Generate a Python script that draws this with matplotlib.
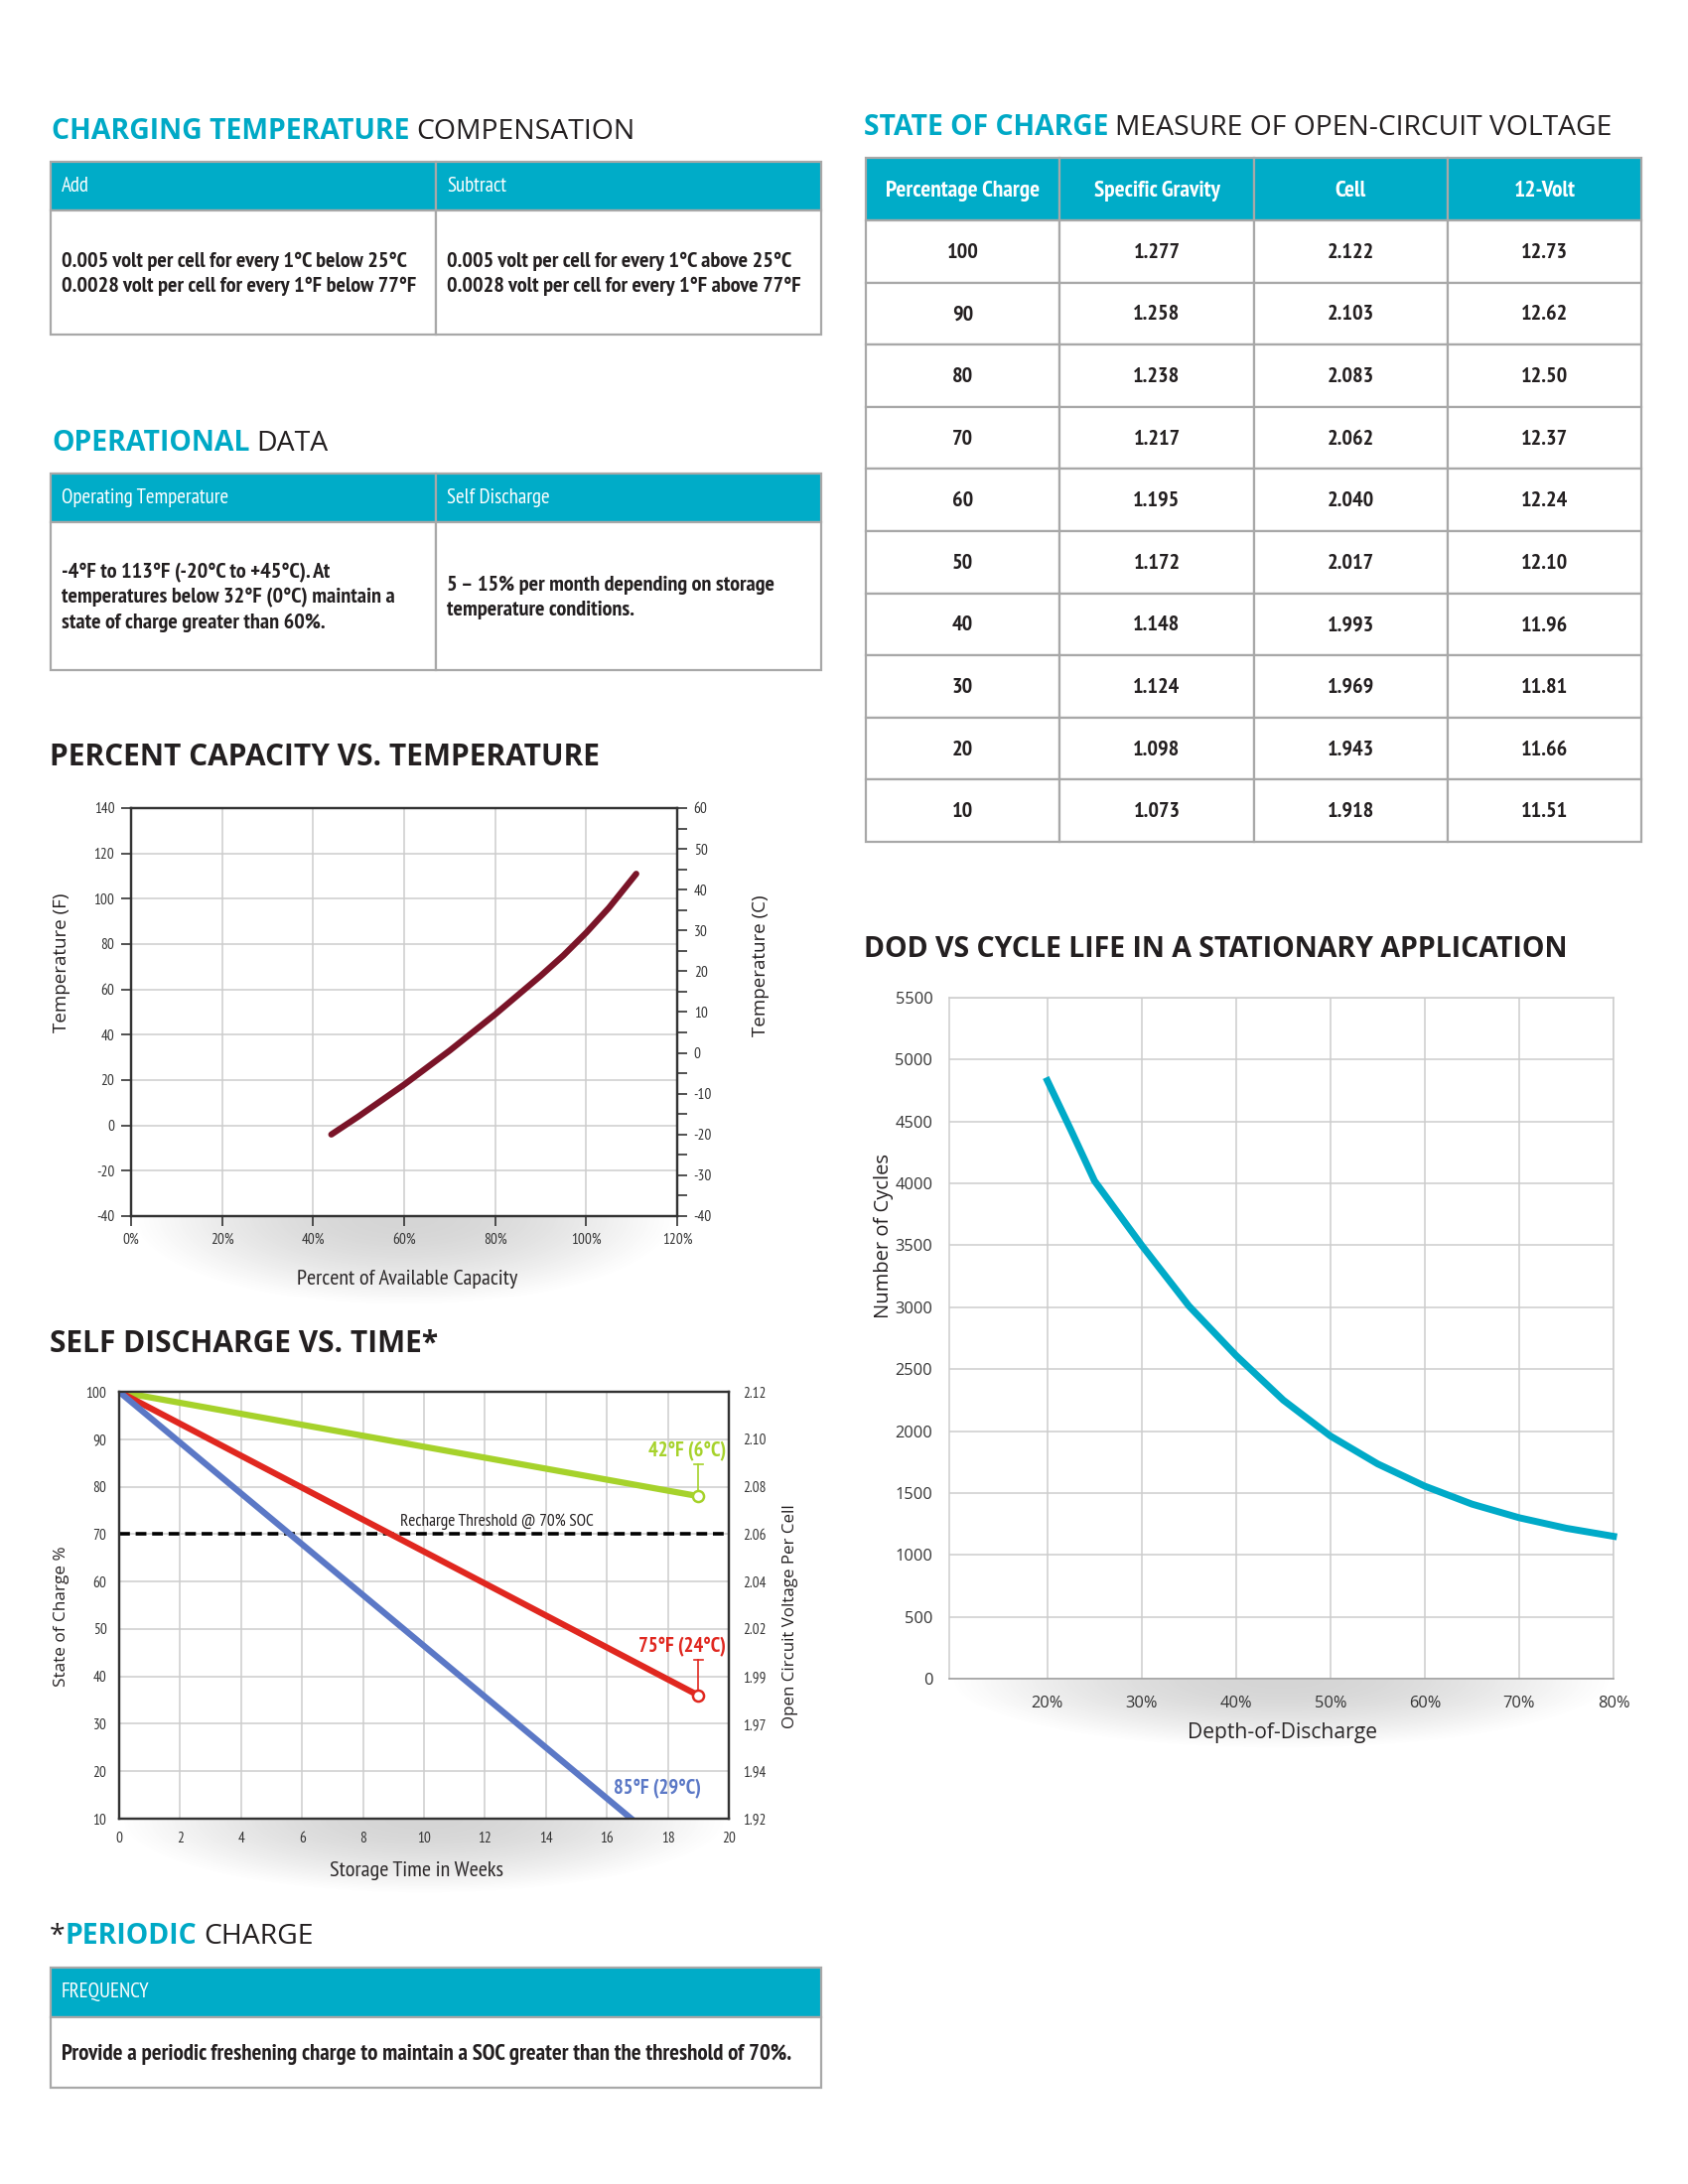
import numpy as np
import matplotlib
matplotlib.use("Agg")
import matplotlib.pyplot as plt
from matplotlib.patches import Rectangle
from matplotlib import font_manager as fm

# ---------------------------------------------------------------------------
# DATA
# ---------------------------------------------------------------------------
comp_headers = ["Add", "Subtract"]
comp_cells = [
    "0.005 volt per cell for every 1°C below 25°C\n0.0028 volt per cell for every 1°F below 77°F",
    "0.005 volt per cell for every 1°C above 25°C\n0.0028 volt per cell for every 1°F above 77°F",
]

op_headers = ["Operating Temperature", "Self Discharge"]
op_cells = [
    "-4°F to 113°F (-20°C to +45°C). At\ntemperatures below 32°F (0°C) maintain a\nstate of charge greater than 60%.",
    "5 – 15% per month depending on storage\ntemperature conditions.",
]

freq_header = "FREQUENCY"
freq_cell = "Provide a periodic freshening charge to maintain a SOC greater than the threshold of 70%."

soc_headers = ["Percentage Charge", "Specific Gravity", "Cell", "12-Volt"]
soc_pct = ["100", "90", "80", "70", "60", "50", "40", "30", "20", "10"]
soc_sg = ["1.277", "1.258", "1.238", "1.217", "1.195", "1.172", "1.148", "1.124", "1.098", "1.073"]
soc_cell = ["2.122", "2.103", "2.083", "2.062", "2.040", "2.017", "1.993", "1.969", "1.943", "1.918"]
soc_12v = ["12.73", "12.62", "12.50", "12.37", "12.24", "12.10", "11.96", "11.81", "11.66", "11.51"]

# percent capacity vs temperature
cap_pct = [44, 50, 60, 70, 80, 85, 90, 95, 100, 105, 111]
cap_temp_f = [-4, 4, 18, 33, 49, 57.5, 66, 75, 85, 96, 111]

# self discharge vs time
sd_weeks_42f = [0, 19]
sd_soc_42f = [100, 78]
sd_weeks_75f = [0, 19]
sd_soc_75f = [100, 36]
sd_weeks_85f = [0, 16.8]
sd_soc_85f = [100, 10]
sd_soc_ticks = [10, 20, 30, 40, 50, 60, 70, 80, 90, 100]
sd_ocv_labels = ["1.92", "1.94", "1.97", "1.99", "2.02", "2.04", "2.06", "2.08", "2.10", "2.12"]
recharge_threshold = 70

# DOD vs cycle life
dod_pct = [20, 22.5, 25, 30, 35, 40, 45, 50, 55, 60, 65, 70, 75, 80]
dod_cycles = [4830, 4430, 4020, 3500, 3010, 2610, 2250, 1960, 1735, 1555, 1410, 1300, 1215, 1150]

# ---------------------------------------------------------------------------
# STYLE
# ---------------------------------------------------------------------------
plt.rcParams["axes.unicode_minus"] = False


def pick(cands, fallback):
    names = {f.name for f in fm.fontManager.ttflist}
    for c in cands:
        if c in names:
            return [c, "DejaVu Sans"]
    return fallback


NARROW = pick(["PT Sans Narrow", "Fira Sans Condensed", "Archivo Narrow", "Roboto Condensed",
               "Liberation Sans Narrow"], ["Roboto", "DejaVu Sans"])
WIDE = pick(["Open Sans"], ["DejaVu Sans"])

CYAN = "#00A9C6"
HEAD = "#00ACC8"
BORDER = "#A8A8A8"
TXT = "#231F20"
GRIDC = "#CDCDCD"

W, H = 1700, 2200
fig = plt.figure(figsize=(17, 22), dpi=100)
fig.patch.set_facecolor("white")


def px_box(x0, y0, x1, y1):
    return [x0 / W, 1 - y1 / H, (x1 - x0) / W, (y1 - y0) / H]


bg = fig.add_axes([0, 0, 1, 1], zorder=-2)
bg.set_xlim(0, W)
bg.set_ylim(H, 0)
bg.axis("off")


def title(x, y, parts, size=20):
    prev = None
    for s, color, weight, fam, gap in parts:
        if prev is None:
            prev = bg.text(x, y, s, color=color, fontsize=size, fontweight=weight,
                           family=fam, va="center", ha="left")
        else:
            prev = bg.annotate(s, xy=(1, 0), xycoords=prev, xytext=(gap, 0),
                               textcoords="offset points", color=color, fontsize=size,
                               fontweight=weight, family=fam, va="bottom", ha="left")


def cell(x0, y0, x1, y1, fill="white"):
    bg.add_patch(Rectangle((x0, y0), x1 - x0, y1 - y0, facecolor=fill,
                           edgecolor=BORDER, lw=1.6, zorder=1))


def two_col_table(x0, x1, xm, ytop, yhead, ybot, headers, cells, body_y):
    cell(x0, ytop, xm, yhead, HEAD)
    cell(xm, ytop, x1, yhead, HEAD)
    cell(x0, yhead, xm, ybot)
    cell(xm, yhead, x1, ybot)
    for hx, h in zip([x0, xm], headers):
        bg.text(hx + 11, (ytop + yhead) / 2, h, color="white", fontsize=15,
                family=NARROW, va="center", ha="left", zorder=2)
    for cx, c, cy in zip([x0, xm], cells, body_y):
        bg.text(cx + 11, cy, c, color=TXT, fontsize=16, fontweight="bold",
                family=NARROW, va="center", ha="left", linespacing=1.35, zorder=2)


def add_shadow(x0, x1, ytop, depth):
    sh = fig.add_axes(px_box(x0, ytop, x1, ytop + depth), zorder=-1)
    xx, yy = np.meshgrid(np.linspace(-1, 1, 400), np.linspace(0, 1, 100))
    r = np.sqrt(xx ** 2 + yy ** 2)
    alpha = 0.30 * np.clip(1 - r ** 2, 0, 1) ** 1.2
    img = np.zeros((100, 400, 4))
    img[..., :3] = 0.45
    img[..., 3] = alpha
    sh.imshow(img, aspect="auto", extent=(0, 1, 1, 0))
    sh.axis("off")


def style_ticklabels(axis_obj, fam):
    for lab in axis_obj.get_xticklabels() + axis_obj.get_yticklabels():
        lab.set_family(fam)


# ---------------------------------------------------------------------------
# LEFT COLUMN: tables
# ---------------------------------------------------------------------------
title(52, 132, [("CHARGING TEMPERATURE", CYAN, "bold", WIDE, 0),
                ("COMPENSATION", TXT, "normal", WIDE, 5)], size=20.4)
two_col_table(51, 827, 439, 163, 212, 337, comp_headers, comp_cells, [276, 276])

title(52, 446, [("OPERATIONAL", CYAN, "bold", WIDE, 0),
                ("DATA", TXT, "normal", WIDE, 5)], size=20.4)
two_col_table(51, 827, 439, 477, 526, 675, op_headers, op_cells, [602, 602])

# ---------------------------------------------------------------------------
# PERCENT CAPACITY VS TEMPERATURE
# ---------------------------------------------------------------------------
title(50, 763, [("PERCENT CAPACITY VS. TEMPERATURE", TXT, "bold", WIDE, 0)], size=21.5)

ax1 = fig.add_axes(px_box(132, 814, 682, 1225))
ax1.plot(cap_pct, cap_temp_f, color="#7A1428", lw=4.5, solid_capstyle="round",
         solid_joinstyle="round", zorder=3)
ax1.set_xlim(0, 120)
ax1.set_ylim(-40, 140)
ax1.set_xticks(range(0, 121, 20))
ax1.set_xticklabels([f"{v}%" for v in range(0, 121, 20)])
ax1.set_yticks(range(-40, 141, 20))
ax1.grid(True, color=GRIDC, lw=1.1)
ax1.set_axisbelow(True)
for sp in ax1.spines.values():
    sp.set_color("#333333")
    sp.set_linewidth(1.6)
ax1.tick_params(direction="out", length=7, width=1.2, color="#333333",
                labelsize=11, labelcolor="#333333", pad=5)
style_ticklabels(ax1, NARROW)
ax1r = ax1.twinx()
ax1r.set_ylim(-40, 60)
ax1r.set_yticks(range(-40, 61, 10))
ax1r.set_yticks(range(-35, 60, 10), minor=True)
ax1r.tick_params(which="both", direction="out", length=7, width=1.2, color="#333333",
                 labelsize=11, labelcolor="#333333", pad=5)
style_ticklabels(ax1r, NARROW)
for sp in ax1r.spines.values():
    sp.set_color("#333333")
    sp.set_linewidth(1.6)
add_shadow(132, 682, 1226, 90)
bg.text(62, 970, "Temperature (F)", rotation=90, fontsize=13.5, family=WIDE,
        color=TXT, va="center", ha="center")
bg.text(766, 973, "Temperature (C)", rotation=90, fontsize=13.5, family=WIDE,
        color=TXT, va="center", ha="center")
bg.text(410, 1289, "Percent of Available Capacity", fontsize=16, family=NARROW,
        color=TXT, va="center", ha="center")

# ---------------------------------------------------------------------------
# SELF DISCHARGE VS TIME
# ---------------------------------------------------------------------------
title(50, 1354, [("SELF DISCHARGE VS. TIME*", TXT, "bold", WIDE, 0)], size=21.5)

GREEN, RED, BLUE = "#A6D22B", "#E0271F", "#5B78C6"
ax2 = fig.add_axes(px_box(120, 1402, 734, 1832))
ax2.set_xlim(0, 20)
ax2.set_ylim(10, 100)
ax2.axhline(recharge_threshold, color="black", lw=2.6, dashes=(3, 1.6), zorder=2,
            clip_on=False)
ax2.plot(sd_weeks_42f, sd_soc_42f, color=GREEN, lw=4.5, zorder=3)
ax2.plot(sd_weeks_75f, sd_soc_75f, color=RED, lw=4.5, zorder=3)
ax2.plot(sd_weeks_85f, sd_soc_85f, color=BLUE, lw=4.5, zorder=3)
for xs, ys, col, lab, ly in [(sd_weeks_42f, sd_soc_42f, GREEN, "42°F (6°C)", 87.4),
                             (sd_weeks_75f, sd_soc_75f, RED, "75°F (24°C)", 46.2)]:
    ax2.plot([xs[-1], xs[-1]], [ys[-1], ly - 2.7], color=col, lw=1.2, zorder=3)
    ax2.plot([xs[-1] - 0.15, xs[-1] + 0.15], [ly - 2.7, ly - 2.7], color=col, lw=1.2, zorder=3)
    ax2.plot(xs[-1], ys[-1], "o", ms=8, mfc="white", mec=col, mew=1.8, zorder=4)
    ax2.text(19.9, ly, lab, color=col, fontsize=14.8, fontweight="bold", family=NARROW,
             ha="right", va="center", zorder=4)
ax2.text(19.1, 16.3, "85°F (29°C)", color=BLUE, fontsize=14.8, fontweight="bold",
         family=NARROW, ha="right", va="center", zorder=4)
ax2.text(12.4, 72.6, "Recharge Threshold @ 70% SOC", color=TXT, fontsize=12.4,
         family=NARROW, ha="center", va="center", zorder=4)
ax2.set_xticks(range(0, 21, 2))
ax2.set_yticks(sd_soc_ticks)
ax2.grid(True, color=GRIDC, lw=1.1)
ax2.set_axisbelow(True)
for sp in ax2.spines.values():
    sp.set_color("#333333")
    sp.set_linewidth(1.6)
ax2.tick_params(length=0, labelsize=11, labelcolor="#333333", pad=9)
style_ticklabels(ax2, NARROW)
ax2r = ax2.twinx()
ax2r.set_ylim(10, 100)
ax2r.set_yticks(sd_soc_ticks)
ax2r.set_yticklabels(sd_ocv_labels)
ax2r.tick_params(length=0, labelsize=11, labelcolor="#333333", pad=10)
style_ticklabels(ax2r, NARROW)
for sp in ax2r.spines.values():
    sp.set_color("#333333")
    sp.set_linewidth(1.6)
add_shadow(120, 734, 1833, 75)
bg.text(62, 1628, "State of Charge %", rotation=90, fontsize=12.3, family=WIDE,
        color=TXT, va="center", ha="center")
bg.text(796, 1628, "Open Circuit Voltage Per Cell", rotation=90, fontsize=12.2,
        family=WIDE, color=TXT, va="center", ha="center")
bg.text(420, 1884, "Storage Time in Weeks", fontsize=16, family=NARROW,
        color=TXT, va="center", ha="center")

# ---------------------------------------------------------------------------
# PERIODIC CHARGE
# ---------------------------------------------------------------------------
title(50, 1951, [("*", TXT, "normal", WIDE, 0),
                 ("PERIODIC", CYAN, "bold", WIDE, 0),
                 ("CHARGE", TXT, "normal", WIDE, 5)], size=20.4)
cell(51, 1982, 827, 2032, HEAD)
cell(51, 2032, 827, 2103)
bg.text(62, 2007, freq_header, color="white", fontsize=15, family=NARROW,
        va="center", ha="left", zorder=2)
bg.text(62, 2069, freq_cell, color=TXT, fontsize=16.5, fontweight="bold",
        family=NARROW, va="center", ha="left", zorder=2)

# ---------------------------------------------------------------------------
# RIGHT COLUMN: state of charge table
# ---------------------------------------------------------------------------
title(870, 129, [("STATE OF CHARGE", CYAN, "bold", WIDE, 0),
                 ("MEASURE OF OPEN-CIRCUIT VOLTAGE", TXT, "normal", WIDE, 5)], size=20.3)
col_edges = [872, 1067, 1263, 1458, 1653]
row_top, head_bot, row_h = 159, 222, 62.6
for i, h in enumerate(soc_headers):
    cell(col_edges[i], row_top, col_edges[i + 1], head_bot, HEAD)
    bg.text((col_edges[i] + col_edges[i + 1]) / 2, (row_top + head_bot) / 2 + 2, h,
            color="white", fontsize=16.8, fontweight="bold", family=NARROW,
            ha="center", va="center", zorder=2)
for r, row in enumerate(zip(soc_pct, soc_sg, soc_cell, soc_12v)):
    y0 = head_bot + r * row_h
    for i, v in enumerate(row):
        cell(col_edges[i], y0, col_edges[i + 1], y0 + row_h)
        bg.text((col_edges[i] + col_edges[i + 1]) / 2, y0 + row_h / 2 + 1, v,
                color=TXT, fontsize=16, fontweight="bold", family=NARROW,
                ha="center", va="center", zorder=2)

# ---------------------------------------------------------------------------
# DOD VS CYCLE LIFE
# ---------------------------------------------------------------------------
title(870, 956, [("DOD VS CYCLE LIFE IN A STATIONARY APPLICATION", TXT, "bold", WIDE, 0)],
      size=20.5)
ax3 = fig.add_axes(px_box(956, 1005, 1625, 1691))
ax3.plot(dod_pct, dod_cycles, color="#00AAC8", lw=5, solid_joinstyle="round", zorder=3,
         clip_on=False)
ax3.set_xlim(9.6, 80)
ax3.set_ylim(0, 5500)
ax3.set_xticks(range(20, 81, 10))
ax3.set_xticklabels([f"{v}%" for v in range(20, 81, 10)])
ax3.set_yticks(range(0, 5501, 500))
ax3.grid(True, color=GRIDC, lw=1.1)
ax3.set_axisbelow(True)
for sp in ax3.spines.values():
    sp.set_color(GRIDC)
    sp.set_linewidth(1.1)
ax3.spines["bottom"].set_color("#9A9A9A")
ax3.tick_params(length=0, labelsize=11.8, labelcolor="#333333", pad=12)
style_ticklabels(ax3, WIDE)
add_shadow(956, 1625, 1692, 70)
bg.text(890, 1245, "Number of Cycles", rotation=90, fontsize=14.5, family=WIDE,
        color=TXT, va="center", ha="center")
bg.text(1292, 1746, "Depth-of-Discharge", fontsize=15.2, family=WIDE,
        color=TXT, va="center", ha="center")

fig.savefig("out.png", dpi=100, facecolor="white")
